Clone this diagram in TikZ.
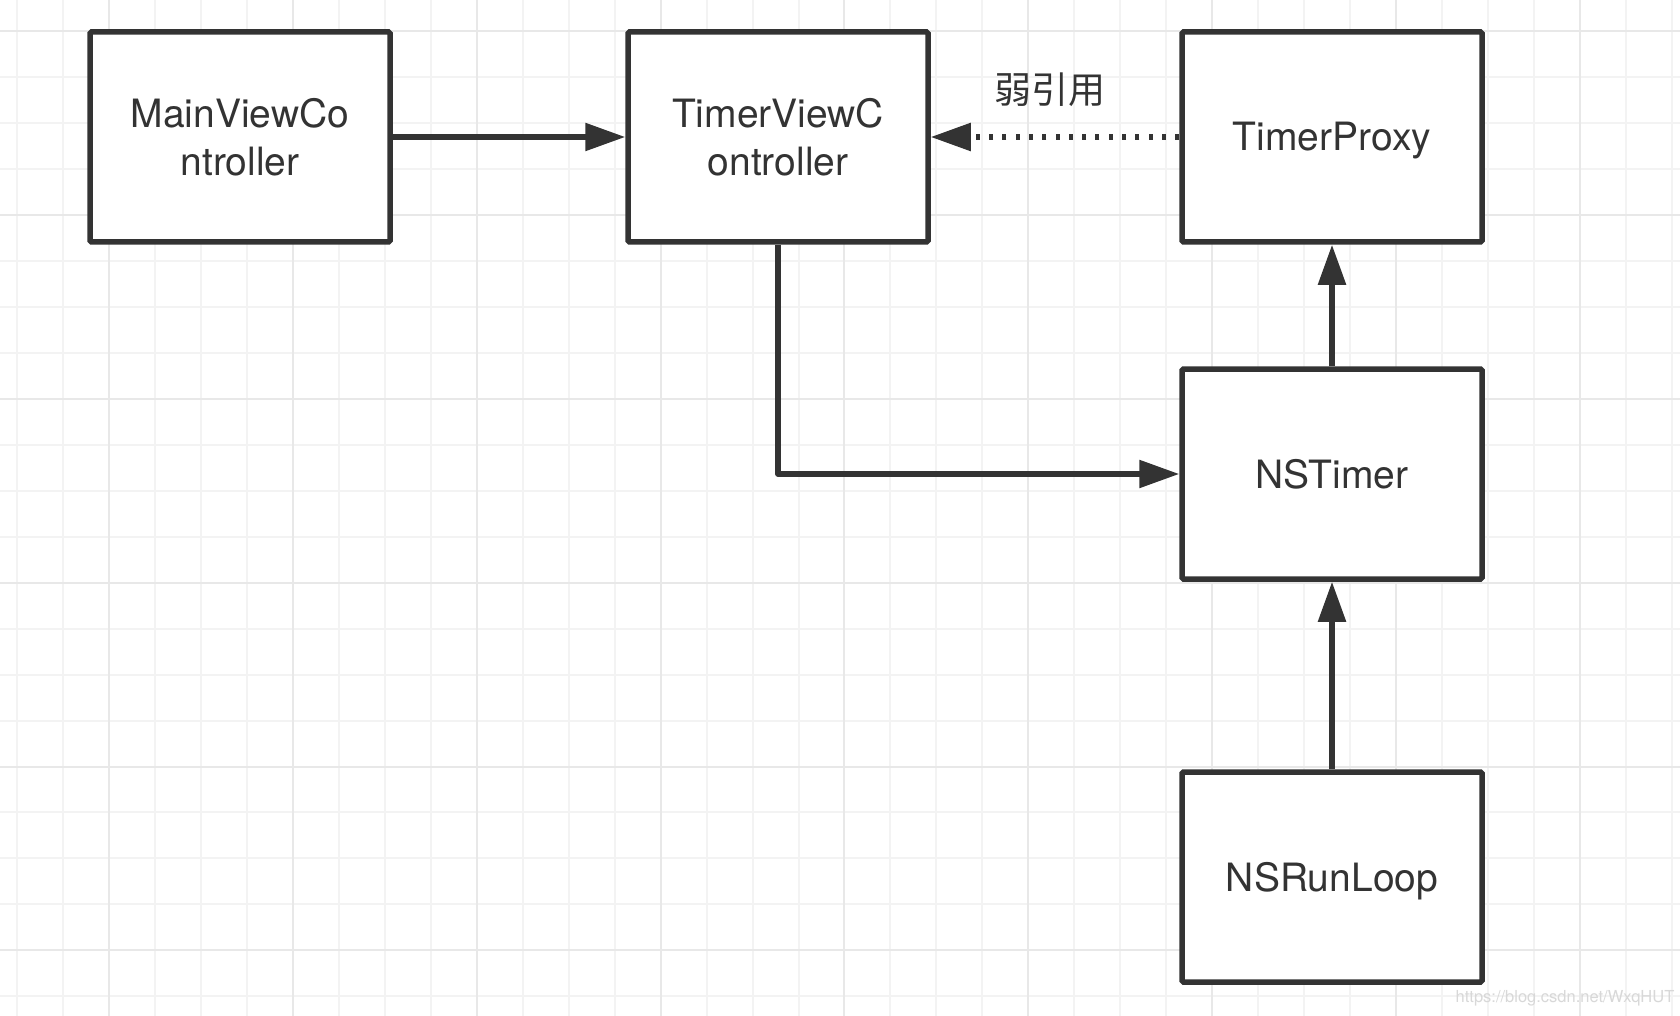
\documentclass[tikz,border=0pt]{standalone}
\usepackage{fontspec}
\setmainfont{TeX Gyre Heros}
\newfontfamily\cjk{Noto Sans CJK SC}
\usetikzlibrary{arrows.meta}
\definecolor{ink}{HTML}{333333}
\definecolor{gridminor}{HTML}{F3F3F3}
\definecolor{gridmajor}{HTML}{E8E8E8}
\definecolor{wmark}{HTML}{D8D8D8}
\tikzset{
  box/.style={draw=ink, line width=5.5pt, rounded corners=1.5pt, fill=white,
    minimum width=300pt, minimum height=210pt, inner sep=0pt, align=center,
    text=ink, font=\fontsize{39}{48}\selectfont},
  single/.style={text height=28pt, text depth=0pt},
  conn/.style={draw=ink, line width=5.5pt, line join=round,
    -{Triangle[length=40pt,width=27pt]}},
  dotconn/.style={conn, dash pattern=on 4pt off 9.3pt},
  minorline/.style={draw=gridminor, line width=2pt},
  majorline/.style={draw=gridmajor, line width=2pt},
}
\begin{document}
\begin{tikzpicture}[x=1pt,y=-1pt]
\useasboundingbox (0,0) rectangle (1680,1016);
\fill[white] (0,0) rectangle (1680,1016);
% grid
\foreach \k in {0,...,36}{
  \pgfmathsetmacro\xx{17+45.97*\k}
  \draw[minorline] (\xx,0) -- (\xx,1016);
}
\foreach \k in {0,...,21}{
  \pgfmathsetmacro\yy{31+45.97*\k}
  \draw[minorline] (0,\yy) -- (1680,\yy);
}
\foreach \k in {2,6,...,34}{
  \pgfmathsetmacro\xx{17+45.97*\k}
  \draw[majorline] (\xx,0) -- (\xx,1016);
}
\foreach \k in {0,4,...,20}{
  \pgfmathsetmacro\yy{31+45.97*\k}
  \draw[majorline] (0,\yy) -- (1680,\yy);
}
% nodes
\node[box] (main) at (240,137) {MainViewCo\\ntroller};
\node[box] (tvc) at (778,137) {TimerViewC\\ontroller};
\node[box, single] (proxy) at (1332,137) {TimerProxy};
\node[box, single] (nstimer) at (1332,474) {NSTimer};
\node[box, single] (runloop) at (1332,877) {NSRunLoop};
\node[text=ink, font=\cjk\fontsize{37}{44}\selectfont] (lbl) at (1050,90) {弱引用};
\node[text=wmark, font=\fontsize{16.5}{18}\selectfont] (wm) at (1565,998) {https://blog.csdn.net/WxqHUT};
% connectors
\draw[conn] (main.east) -- (tvc.west);
\draw[dotconn] (proxy.west) -- (tvc.east);
\draw[conn] (tvc.south) |- (nstimer.west);
\draw[conn] (nstimer.north) -- (proxy.south);
\draw[conn] (runloop.north) -- (nstimer.south);
\end{tikzpicture}
\end{document}
